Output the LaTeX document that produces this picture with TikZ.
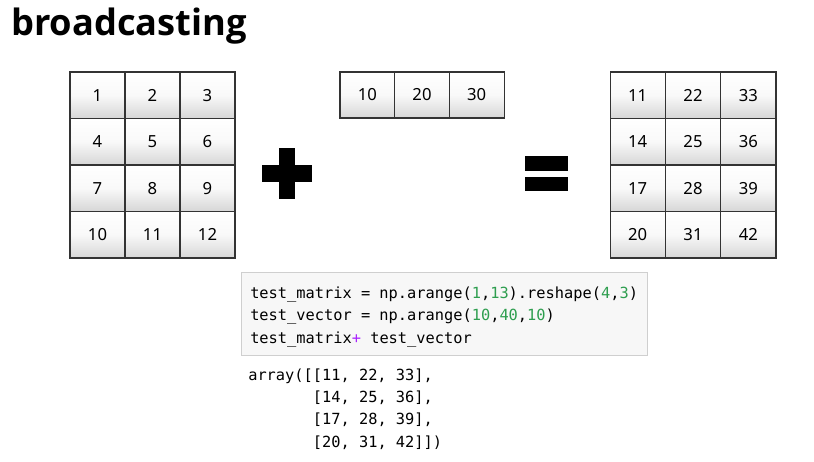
\documentclass[tikz,border=0pt]{standalone}
\usepackage{fontspec}
\setmainfont{Noto Sans}
\setmonofont{DejaVu Sans Mono}
\newfontfamily\titlefont{Open Sans}
\definecolor{cellline}{HTML}{333333}
\definecolor{cellbot}{HTML}{D6D6D6}
\definecolor{codebg}{HTML}{F7F7F7}
\definecolor{codeline}{HTML}{CFCFCF}
\definecolor{numgreen}{HTML}{2E9E4F}
\definecolor{oppurple}{HTML}{AA22FF}
\begin{document}
\begin{tikzpicture}[x=0.75pt,y=-0.75pt,
  cell/.style={draw=cellline, line width=0.8pt, top color=white, bottom color=cellbot,
    middle color=white!85!cellbot, minimum width=41.25pt, minimum height=34.9pt,
    inner sep=0pt, font=\fontsize{12.5}{14}\selectfont},
  code/.style={anchor=base west, inner sep=0pt, font=\ttfamily\fontsize{11.5}{13}\selectfont},
  title/.style={anchor=base west, inner sep=0pt, font=\titlefont\bfseries\fontsize{27.2}{32}\selectfont}]
\useasboundingbox (0,0) rectangle (814,461);
\fill[white] (0,0) rectangle (814,461);
% title
\node[title] (title) at (11,35) {broadcasting};
% matrix A
\foreach \r [count=\i from 0] in {1,2,3,4}{
  \foreach \c [count=\j from 0] in {1,2,3}{
    \pgfmathtruncatemacro\v{(\r-1)*3+\c}
    \node[cell] (a-\r-\c) at ({97.5+55*\j},{95.25+46.5*\i}) {\v};
  }
}
% vector
\foreach \v [count=\j from 0] in {10,20,30}{
  \node[cell, minimum width=41pt, minimum height=34.5pt] (v-\j) at ({367.3+54.7*\j},95) {\v};
}
% result
\foreach \r/\vals [count=\i from 0] in {1/{11,22,33},2/{14,25,36},3/{17,28,39},4/{20,31,42}}{
  \foreach \v [count=\j from 0] in \vals{
    \node[cell, minimum width=41.5pt] (r-\r-\j) at ({637.7+55.3*\j},{95.25+46.5*\i}) {\v};
  }
}
% plus sign
\fill[black] (279,148) rectangle (295,199);
\fill[black] (262,165) rectangle (312,182);
% equals sign
\fill[black] (525,156) rectangle (568,171);
\fill[black] (525,177) rectangle (568,191);
% code box
\filldraw[fill=codebg, draw=codeline, line width=0.75pt] (241,272) rectangle (647,355);
\node[code] (c1) at (250,298) {test\_matrix = np.arange(\textcolor{numgreen}{1},\textcolor{numgreen}{13}).reshape(\textcolor{numgreen}{4},\textcolor{numgreen}{3})};
\node[code] (c2) at (250,320.5) {test\_vector = np.arange(\textcolor{numgreen}{10},\textcolor{numgreen}{40},\textcolor{numgreen}{10})};
\node[code] (c3) at (250,343) {test\_matrix\textcolor{oppurple}{+} test\_vector};
% output
\node[code] (o1) at (248,380) {array([[11, 22, 33],};
\node[code] (o2) at (248,402) {\phantom{array([}[14, 25, 36],};
\node[code] (o3) at (248,424.5) {\phantom{array([}[17, 28, 39],};
\node[code] (o4) at (248,447) {\phantom{array([}[20, 31, 42]])};
\end{tikzpicture}
\end{document}
